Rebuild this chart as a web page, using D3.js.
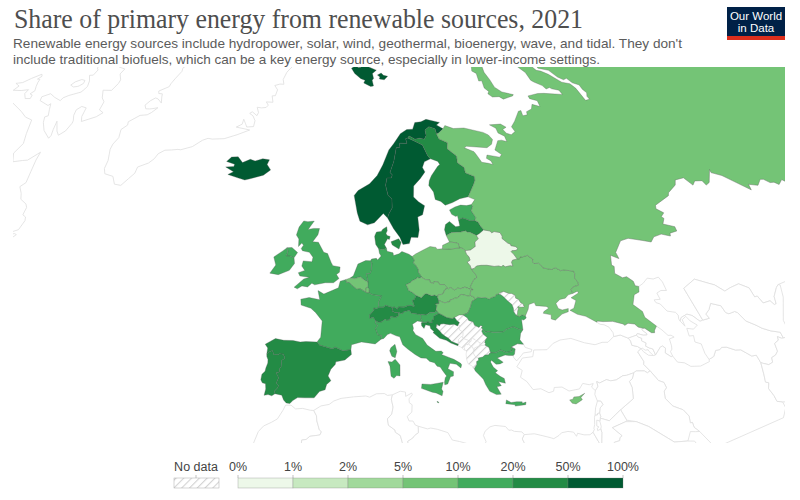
<!DOCTYPE html>
<html><head><meta charset="utf-8"><title>Share of primary energy from renewable sources, 2021</title>
<script src="https://cdn.jsdelivr.net/npm/d3@7"></script>
<style>html,body{margin:0;background:#fff}svg{display:block}</style></head><body><svg id="chart" width="800" height="500"></svg>
<script>
// ---- Chart text and legend ----
const titleText = "Share of primary energy from renewable sources, 2021";
const subtitleLines = ["Renewable energy sources include hydropower, solar, wind, geothermal, bioenergy, wave, and tidal. They don't",
  "include traditional biofuels, which can be a key energy source, especially in lower-income settings."];
const legendTicks = ["0%","1%","2%","5%","10%","20%","50%","100%"];
const legendThresholds = [1,2,5,10,20,50];
const binColors = ["#edf8e9","#c7e9c0","#a1d99b","#74c476","#41ab5d","#238b45","#005a32"];

// ---- Values: share of primary energy from renewables, %, read by colour band ----
const countriesWithData = ["Iceland","Norway","Sweden","Finland","Denmark","Estonia","Latvia","Lithuania","Belarus","Poland","Germany","Netherlands","Belgium","Luxembourg","France","Spain","Portugal","Italy","Switzerland","Austria","Czechia","Slovakia","Hungary","Slovenia","Croatia","Romania","Bulgaria","Greece","Cyprus","Malta","United Kingdom","Ireland","Ukraine","Russia"];
const shareValues = [79.8,71.6,51,34,39.9,17,39,9.9,0.9,9.4,19,13,9.4,8.5,13,20.6,27,19.4,31,36,9.6,8.6,8,18,28,17,12,17,9,12,17,13,8.5,6.4];

// ---- Outlines in longitude / latitude ----
const iceland=[[[-14.51,66.46],[-14.74,65.81],[-13.61,65.13],[-14.91,64.36],[-17.79,63.68],[-18.66,63.5],[-19.97,63.64],[-22.76,63.96],[-21.78,64.4],[-23.96,64.89],[-22.18,65.09],[-22.23,65.38],[-24.33,65.61],[-23.65,66.26],[-22.14,66.41],[-20.58,65.73],[-19.06,66.28],[-17.8,66.13],[-16.17,66.53],[-14.51,66.46]]];
const ireland=[[[-6.2,53.87],[-6.03,53.15],[-6.79,52.26],[-8.56,51.67],[-9.98,51.82],[-9.17,52.86],[-9.69,53.88],[-8.33,54.66],[-7.57,55.13],[-7.37,54.6],[-7.57,54.06],[-6.95,54.07],[-6.2,53.87]]];
const uk=[[[-5.66,54.55],[-6.2,53.87],[-6.95,54.07],[-7.57,54.06],[-7.37,54.6],[-7.57,55.13],[-6.73,55.17],[-5.66,54.55]],[[-3.01,58.64],[-4.07,57.55],[-3.06,57.69],[-1.96,57.68],[-2.22,56.87],[-3.12,55.97],[-2.09,55.91],[-2.01,55.8],[-1.11,54.62],[-0.43,54.46],[0.18,53.33],[0.47,52.93],[1.68,52.74],[1.56,52.1],[1.05,51.81],[1.45,51.29],[0.55,50.77],[-0.79,50.77],[-2.49,50.5],[-2.96,50.7],[-3.62,50.23],[-4.54,50.34],[-5.25,49.96],[-5.78,50.16],[-4.31,51.21],[-3.41,51.43],[-4.98,51.59],[-5.27,51.99],[-4.22,52.3],[-4.77,52.84],[-4.58,53.5],[-3.09,53.4],[-2.95,53.99],[-3.61,54.6],[-4.84,54.79],[-5.08,55.06],[-4.72,55.51],[-5.05,55.78],[-5.59,55.31],[-5.64,56.28],[-6.15,56.79],[-5.79,57.82],[-5.01,58.63],[-4.21,58.55],[-3.01,58.64]]];
const norway=[[[15.14,79.67],[15.52,80.02],[16.99,80.05],[18.25,79.7],[21.54,78.96],[19.03,78.56],[18.47,77.83],[17.59,77.64],[17.12,76.81],[15.91,76.77],[13.76,77.38],[14.67,77.74],[13.17,78.02],[11.22,78.87],[10.44,79.65],[13.17,80.01],[13.72,79.66],[15.14,79.67]],[[24.72,77.85],[22.49,77.44],[20.73,77.68],[21.42,77.94],[20.81,78.25],[22.88,78.45],[23.28,78.08],[24.72,77.85]],[[31.1,69.56],[29.4,69.16],[28.59,69.06],[29.02,69.77],[27.73,70.16],[26.18,69.83],[25.69,69.09],[24.74,68.65],[23.66,68.89],[22.36,68.84],[21.24,69.37],[20.65,69.11],[20.03,69.07],[19.88,68.41],[17.99,68.57],[17.73,68.01],[16.77,68.01],[16.11,67.3],[15.11,66.19],[13.56,64.79],[13.92,64.45],[13.57,64.05],[12.58,64.07],[11.93,63.13],[11.99,61.8],[12.63,61.29],[12.3,60.12],[11.47,59.43],[11.03,58.86],[10.36,59.47],[8.38,58.31],[7.05,58.08],[5.67,58.59],[5.31,59.66],[4.99,61.97],[5.91,62.61],[8.55,63.45],[10.53,64.49],[12.36,65.88],[14.76,67.81],[16.44,68.56],[19.18,69.82],[21.38,70.26],[23.02,70.2],[24.55,71.03],[26.37,70.99],[28.17,71.19],[31.29,70.45],[30.01,70.19],[31.1,69.56]]];
const sweden=[[[22.18,65.72],[21.21,65.03],[21.37,64.41],[19.78,63.61],[17.85,62.75],[17.12,61.34],[17.83,60.64],[18.79,60.08],[17.87,58.95],[16.83,58.72],[16.45,57.04],[15.88,56.1],[14.67,56.2],[14.1,55.41],[12.94,55.36],[12.63,56.31],[11.79,57.44],[11.03,58.86],[11.47,59.43],[12.3,60.12],[12.63,61.29],[11.99,61.8],[11.93,63.13],[12.58,64.07],[13.57,64.05],[13.92,64.45],[13.56,64.79],[15.11,66.19],[16.11,67.3],[16.77,68.01],[17.73,68.01],[17.99,68.57],[19.88,68.41],[20.03,69.07],[20.65,69.11],[21.98,68.62],[23.54,67.94],[23.57,66.4],[23.9,66.01],[22.18,65.72]]];
const finland=[[[28.59,69.06],[28.45,68.36],[29.98,67.7],[29.05,66.94],[30.22,65.81],[29.54,64.95],[30.44,64.2],[30.04,63.55],[31.52,62.87],[31.14,62.36],[30.21,61.78],[28.07,60.5],[26.26,60.42],[24.5,60.06],[22.87,59.85],[22.29,60.39],[21.32,60.72],[21.54,61.71],[21.06,62.61],[21.54,63.19],[22.44,63.82],[24.73,64.9],[25.4,65.11],[25.29,65.53],[23.9,66.01],[23.57,66.4],[23.54,67.94],[21.98,68.62],[20.65,69.11],[21.24,69.37],[22.36,68.84],[23.66,68.89],[24.74,68.65],[25.69,69.09],[26.18,69.83],[27.73,70.16],[29.02,69.77],[28.59,69.06]]];
const denmark=[[[12.69,55.61],[12.09,54.8],[11.04,55.36],[10.9,55.78],[12.37,56.11],[12.69,55.61]],[[10.91,56.46],[10.67,56.08],[10.37,56.19],[9.65,55.47],[9.92,54.98],[9.28,54.83],[8.53,54.96],[8.12,55.52],[8.09,56.54],[8.26,56.81],[8.54,57.11],[9.42,57.17],[9.78,57.45],[10.58,57.73],[10.55,57.22],[10.25,56.89],[10.37,56.61],[10.91,56.46]]];
const estonia=[[[27.98,59.48],[28.13,59.3],[27.42,58.72],[27.72,57.79],[27.29,57.47],[26.46,57.48],[25.6,57.85],[25.16,57.97],[24.31,57.79],[24.43,58.38],[24.06,58.26],[23.43,58.61],[23.34,59.19],[24.6,59.47],[25.86,59.61],[26.95,59.45],[27.98,59.48]]];
const latvia=[[[27.29,57.47],[27.77,57.24],[27.86,56.76],[28.18,56.17],[27.1,55.78],[26.49,55.62],[25.53,56.1],[25,56.16],[24.86,56.37],[23.88,56.27],[22.2,56.34],[21.06,56.03],[21.09,56.78],[21.58,57.41],[22.52,57.75],[23.32,57.01],[24.12,57.03],[24.31,57.79],[25.16,57.97],[25.6,57.85],[26.46,57.48],[27.29,57.47]]];
const lithuania=[[[26.49,55.62],[26.59,55.17],[25.77,54.85],[25.54,54.28],[24.45,53.91],[23.48,53.91],[23.24,54.22],[22.73,54.33],[22.65,54.58],[22.76,54.86],[22.32,55.02],[21.27,55.19],[21.06,56.03],[22.2,56.34],[23.88,56.27],[24.86,56.37],[25,56.16],[25.53,56.1],[26.49,55.62]]];
const belarus=[[[23.48,53.91],[24.45,53.91],[25.54,54.28],[25.77,54.85],[26.59,55.17],[26.49,55.62],[27.1,55.78],[28.18,56.17],[29.23,55.92],[29.37,55.67],[29.9,55.79],[30.87,55.55],[30.97,55.08],[30.76,54.81],[31.38,54.16],[31.79,53.97],[31.73,53.79],[32.41,53.62],[32.69,53.35],[32.3,53.13],[31.5,53.17],[31.31,53.07],[31.54,52.74],[31.79,52.1],[30.93,52.04],[30.62,51.82],[30.56,51.32],[30.16,51.42],[29.25,51.37],[28.99,51.6],[28.62,51.43],[28.24,51.57],[27.45,51.59],[26.34,51.83],[25.33,51.91],[24.55,51.89],[24.01,51.62],[23.53,51.58],[23.51,52.02],[23.2,52.49],[23.8,52.69],[23.8,53.09],[23.53,53.47],[23.48,53.91]]];
const poland=[[[15.02,51.11],[14.61,51.75],[14.69,52.09],[14.44,52.62],[14.07,52.98],[14.35,53.25],[14.12,53.76],[14.8,54.05],[16.36,54.51],[17.62,54.85],[18.62,54.68],[18.7,54.44],[19.66,54.43],[20.89,54.31],[22.73,54.33],[23.24,54.22],[23.48,53.91],[23.53,53.47],[23.8,53.09],[23.8,52.69],[23.2,52.49],[23.51,52.02],[23.53,51.58],[24.03,50.71],[23.92,50.42],[23.43,50.31],[22.52,49.48],[22.78,49.03],[22.56,49.09],[21.61,49.47],[20.89,49.33],[20.42,49.43],[19.83,49.22],[19.32,49.57],[18.91,49.44],[18.85,49.5],[18.39,49.99],[17.65,50.05],[17.55,50.36],[16.87,50.47],[16.72,50.22],[16.18,50.42],[16.24,50.7],[15.49,50.78],[15.02,51.11]]];
const germany=[[[14.12,53.76],[14.35,53.25],[14.07,52.98],[14.44,52.62],[14.69,52.09],[14.61,51.75],[15.02,51.11],[14.57,51],[14.31,51.12],[14.06,50.93],[13.34,50.73],[12.97,50.48],[12.24,50.27],[12.42,49.97],[12.52,49.55],[13.03,49.31],[13.6,48.88],[13.24,48.42],[12.88,48.29],[13.03,47.64],[12.93,47.47],[12.62,47.67],[12.14,47.7],[11.43,47.52],[10.54,47.57],[10.4,47.3],[9.9,47.58],[9.59,47.53],[8.52,47.83],[8.32,47.61],[7.47,47.62],[7.59,48.33],[8.1,49.02],[6.66,49.2],[6.19,49.46],[6.24,49.9],[6.04,50.13],[6.16,50.8],[5.99,51.85],[6.59,51.85],[6.84,52.23],[7.09,53.14],[6.91,53.48],[7.1,53.69],[7.94,53.75],[8.12,53.53],[8.8,54.02],[8.57,54.4],[8.53,54.96],[9.28,54.83],[9.92,54.98],[9.94,54.6],[10.95,54.36],[10.94,54.01],[11.96,54.2],[12.52,54.47],[13.65,54.08],[14.12,53.76]]];
const netherlands=[[[6.91,53.48],[7.09,53.14],[6.84,52.23],[6.59,51.85],[5.99,51.85],[6.16,50.8],[5.61,51.04],[4.97,51.48],[4.05,51.27],[3.31,51.35],[3.83,51.62],[4.71,53.09],[6.07,53.51],[6.91,53.48]]];
const belgium=[[[3.31,51.35],[4.05,51.27],[4.97,51.48],[5.61,51.04],[6.16,50.8],[6.04,50.13],[5.78,50.09],[5.67,49.53],[4.8,49.99],[4.29,49.91],[3.59,50.38],[3.12,50.78],[2.66,50.8],[2.51,51.15],[3.31,51.35]]];
const luxembourg=[[[6.04,50.13],[6.24,49.9],[6.19,49.46],[5.9,49.44],[5.67,49.53],[5.78,50.09],[6.04,50.13]]];
const france=[[[2.51,51.15],[2.66,50.8],[3.12,50.78],[3.59,50.38],[4.29,49.91],[4.8,49.99],[5.67,49.53],[5.9,49.44],[6.19,49.46],[6.66,49.2],[8.1,49.02],[7.59,48.33],[7.47,47.62],[7.19,47.45],[6.74,47.54],[6.77,47.29],[6.04,46.73],[6.02,46.27],[6.5,46.43],[6.84,45.99],[6.8,45.71],[7.1,45.33],[6.75,45.03],[7.01,44.25],[7.55,44.13],[7.44,43.69],[6.53,43.13],[4.56,43.4],[3.1,43.08],[2.99,42.47],[1.83,42.34],[0.7,42.8],[0.34,42.58],[-1.5,43.03],[-1.9,43.42],[-1.38,44.02],[-1.19,46.01],[-2.23,47.06],[-2.96,47.57],[-4.49,47.95],[-4.59,48.68],[-3.3,48.9],[-1.62,48.64],[-1.93,49.78],[-0.99,49.35],[1.34,50.13],[1.64,50.95],[2.51,51.15]],[[9.56,42.15],[9.23,41.38],[8.78,41.58],[8.54,42.26],[8.75,42.63],[9.39,43.01],[9.56,42.15]]];
const spain=[[[-9.03,41.88],[-8.98,42.59],[-9.39,43.03],[-7.98,43.75],[-6.75,43.57],[-5.41,43.57],[-4.35,43.4],[-3.52,43.46],[-1.9,43.42],[-1.5,43.03],[0.34,42.58],[0.7,42.8],[1.83,42.34],[2.99,42.47],[3.04,41.89],[2.09,41.23],[0.81,41.01],[0.72,40.68],[0.11,40.12],[-0.28,39.31],[0.11,38.74],[-0.47,38.29],[-0.68,37.64],[-1.44,37.44],[-2.15,36.67],[-3.42,36.66],[-4.37,36.68],[-5,36.32],[-5.38,35.95],[-5.87,36.03],[-6.24,36.37],[-6.52,36.94],[-7.45,37.1],[-7.54,37.43],[-7.17,37.8],[-7.03,38.08],[-7.37,38.37],[-7.1,39.03],[-7.5,39.63],[-7.07,39.71],[-7.03,40.18],[-6.86,40.33],[-6.85,41.11],[-6.39,41.38],[-6.67,41.88],[-7.25,41.92],[-7.42,41.79],[-8.01,41.79],[-8.26,42.28],[-8.67,42.13],[-9.03,41.88]]];
const portugal=[[[-9.03,41.88],[-8.67,42.13],[-8.26,42.28],[-8.01,41.79],[-7.42,41.79],[-7.25,41.92],[-6.67,41.88],[-6.39,41.38],[-6.85,41.11],[-6.86,40.33],[-7.03,40.18],[-7.07,39.71],[-7.5,39.63],[-7.1,39.03],[-7.37,38.37],[-7.03,38.08],[-7.17,37.8],[-7.54,37.43],[-7.45,37.1],[-7.86,36.84],[-8.38,36.98],[-8.9,36.87],[-8.75,37.65],[-8.84,38.27],[-9.29,38.36],[-9.53,38.74],[-9.45,39.39],[-9.05,39.76],[-8.98,40.16],[-8.77,40.76],[-8.79,41.18],[-8.99,41.54],[-9.03,41.88]]];
const italy=[[[15.52,38.23],[15.16,37.44],[15.31,37.13],[15.1,36.62],[14.34,37],[13.83,37.1],[12.43,37.61],[12.57,38.13],[13.74,38.03],[14.76,38.14],[15.52,38.23]],[[9.21,41.21],[9.81,40.5],[9.67,39.18],[9.21,39.24],[8.81,38.91],[8.43,39.17],[8.39,40.38],[8.16,40.95],[8.71,40.9],[9.21,41.21]],[[12.38,46.77],[13.81,46.51],[13.7,46.02],[13.94,45.59],[13.14,45.74],[12.33,45.38],[12.38,44.89],[12.26,44.6],[12.59,44.09],[13.53,43.59],[14.03,42.76],[15.14,41.96],[15.93,41.96],[16.17,41.74],[15.89,41.54],[16.79,41.18],[17.52,40.88],[18.38,40.36],[18.48,40.17],[18.29,39.81],[17.74,40.28],[16.87,40.44],[16.45,39.8],[17.17,39.42],[17.05,38.9],[16.64,38.84],[16.1,37.99],[15.68,37.91],[15.69,38.21],[15.89,38.75],[16.11,38.96],[15.72,39.54],[15.41,40.05],[15,40.17],[14.7,40.6],[14.06,40.79],[13.63,41.19],[12.89,41.25],[12.11,41.7],[11.19,42.36],[10.51,42.93],[10.2,43.92],[9.7,44.04],[8.89,44.37],[8.43,44.23],[7.85,43.77],[7.44,43.69],[7.55,44.13],[7.01,44.25],[6.75,45.03],[7.1,45.33],[6.8,45.71],[6.84,45.99],[7.27,45.78],[7.76,45.82],[8.32,46.16],[8.49,46.01],[8.97,46.04],[9.18,46.44],[9.92,46.31],[10.36,46.48],[10.44,46.89],[11.05,46.75],[11.16,46.94],[12.15,47.12],[12.38,46.77]]];
const switzerland=[[[9.59,47.53],[9.63,47.35],[9.48,47.1],[9.93,46.92],[10.44,46.89],[10.36,46.48],[9.92,46.31],[9.18,46.44],[8.97,46.04],[8.49,46.01],[8.32,46.16],[7.76,45.82],[7.27,45.78],[6.84,45.99],[6.5,46.43],[6.02,46.27],[6.04,46.73],[6.77,47.29],[6.74,47.54],[7.19,47.45],[7.47,47.62],[8.32,47.61],[8.52,47.83],[9.59,47.53]]];
const austria=[[[16.98,48.12],[16.9,47.71],[16.34,47.71],[16.53,47.5],[16.2,46.85],[16.01,46.68],[15.14,46.66],[14.63,46.43],[13.81,46.51],[12.38,46.77],[12.15,47.12],[11.16,46.94],[11.05,46.75],[10.44,46.89],[9.93,46.92],[9.48,47.1],[9.63,47.35],[9.59,47.53],[9.9,47.58],[10.4,47.3],[10.54,47.57],[11.43,47.52],[12.14,47.7],[12.62,47.67],[12.93,47.47],[13.03,47.64],[12.88,48.29],[13.24,48.42],[13.6,48.88],[14.34,48.56],[14.9,48.96],[15.25,49.04],[16.03,48.73],[16.5,48.79],[16.96,48.6],[16.88,48.47],[16.98,48.12]]];
const czechia=[[[16.96,48.6],[16.5,48.79],[16.03,48.73],[15.25,49.04],[14.9,48.96],[14.34,48.56],[13.6,48.88],[13.03,49.31],[12.52,49.55],[12.42,49.97],[12.24,50.27],[12.97,50.48],[13.34,50.73],[14.06,50.93],[14.31,51.12],[14.57,51],[15.02,51.11],[15.49,50.78],[16.24,50.7],[16.18,50.42],[16.72,50.22],[16.87,50.47],[17.55,50.36],[17.65,50.05],[18.39,49.99],[18.85,49.5],[18.55,49.5],[18.4,49.32],[18.17,49.27],[18.1,49.04],[17.91,49],[17.89,48.9],[17.55,48.8],[17.1,48.82],[16.96,48.6]]];
const slovakia=[[[18.85,49.5],[18.91,49.44],[19.32,49.57],[19.83,49.22],[20.42,49.43],[20.89,49.33],[21.61,49.47],[22.56,49.09],[22.28,48.83],[22.09,48.42],[21.87,48.32],[20.8,48.62],[20.47,48.56],[20.24,48.33],[19.77,48.2],[19.66,48.27],[19.17,48.11],[18.78,48.08],[18.7,47.88],[17.86,47.76],[17.49,47.87],[16.98,48.12],[16.88,48.47],[16.96,48.6],[17.1,48.82],[17.55,48.8],[17.89,48.9],[17.91,49],[18.1,49.04],[18.17,49.27],[18.4,49.32],[18.55,49.5],[18.85,49.5]]];
const hungary=[[[16.2,46.85],[16.53,47.5],[16.34,47.71],[16.9,47.71],[16.98,48.12],[17.49,47.87],[17.86,47.76],[18.7,47.88],[18.78,48.08],[19.17,48.11],[19.66,48.27],[19.77,48.2],[20.24,48.33],[20.47,48.56],[20.8,48.62],[21.87,48.32],[22.09,48.42],[22.64,48.15],[22.71,47.88],[22.1,47.67],[21.63,46.99],[21.02,46.32],[20.22,46.13],[19.6,46.17],[18.83,45.91],[18.46,45.76],[17.63,45.95],[16.88,46.38],[16.56,46.5],[16.37,46.84],[16.2,46.85]]];
const slovenia=[[[13.81,46.51],[14.63,46.43],[15.14,46.66],[16.01,46.68],[16.2,46.85],[16.37,46.84],[16.56,46.5],[15.77,46.24],[15.67,45.83],[15.32,45.73],[15.33,45.45],[14.94,45.47],[14.6,45.63],[14.41,45.47],[13.72,45.5],[13.94,45.59],[13.7,46.02],[13.81,46.51]]];
const croatia=[[[18.83,45.91],[19.07,45.52],[19.39,45.24],[19.01,44.86],[18.55,45.08],[17.86,45.07],[17,45.23],[16.53,45.21],[16.32,45],[15.96,45.23],[15.75,44.82],[16.24,44.35],[16.46,44.04],[16.92,43.67],[17.3,43.45],[17.67,43.03],[18.56,42.65],[18.45,42.48],[17.51,42.85],[16.93,43.21],[16.02,43.51],[15.17,44.24],[15.38,44.32],[14.92,44.74],[14.9,45.08],[14.26,45.23],[13.95,44.8],[13.66,45.14],[13.68,45.48],[13.72,45.5],[14.41,45.47],[14.6,45.63],[14.94,45.47],[15.33,45.45],[15.32,45.73],[15.67,45.83],[15.77,46.24],[16.56,46.5],[16.88,46.38],[17.63,45.95],[18.46,45.76],[18.83,45.91]]];
const romania=[[[22.71,47.88],[23.14,48.1],[23.76,47.99],[24.4,47.98],[24.87,47.74],[25.21,47.89],[25.95,47.99],[26.2,48.22],[26.62,48.22],[26.92,48.12],[27.23,47.83],[27.55,47.41],[28.13,46.81],[28.16,46.37],[28.05,45.94],[28.23,45.49],[28.68,45.3],[29.15,45.46],[29.6,45.29],[29.63,45.04],[29.14,44.82],[28.84,44.91],[28.56,43.71],[27.97,43.81],[27.24,44.18],[26.07,43.94],[25.57,43.69],[24.1,43.74],[23.33,43.9],[22.94,43.82],[22.66,44.23],[22.47,44.41],[22.71,44.58],[22.46,44.7],[22.15,44.48],[21.56,44.77],[21.48,45.18],[20.87,45.42],[20.76,45.73],[20.22,46.13],[21.02,46.32],[21.63,46.99],[22.1,47.67],[22.71,47.88]]];
const bulgaria=[[[22.66,44.23],[22.94,43.82],[23.33,43.9],[24.1,43.74],[25.57,43.69],[26.07,43.94],[27.24,44.18],[27.97,43.81],[28.56,43.71],[28.04,43.29],[27.67,42.58],[28,42.01],[27.14,42.14],[26.12,41.83],[26.11,41.33],[25.2,41.23],[24.49,41.58],[23.69,41.31],[22.95,41.34],[22.88,42],[22.38,42.32],[22.55,42.46],[22.44,42.58],[22.6,42.9],[22.99,43.21],[22.5,43.64],[22.41,44.01],[22.66,44.23]]];
const greece=[[[20.15,39.62],[20.62,40.11],[20.67,40.44],[21,40.58],[21.02,40.84],[21.67,40.93],[22.06,41.15],[22.6,41.13],[22.76,41.3],[22.95,41.34],[23.69,41.31],[24.49,41.58],[25.2,41.23],[26.11,41.33],[26.12,41.83],[26.6,41.56],[26.29,40.94],[26.06,40.82],[25.45,40.85],[24.93,40.95],[23.71,40.69],[24.41,40.12],[23.9,39.96],[23.34,39.96],[22.81,40.48],[22.63,40.26],[22.85,39.66],[23.35,39.19],[22.97,38.97],[23.53,38.51],[24.03,38.22],[24.04,37.66],[23.12,37.92],[23.41,37.41],[22.77,37.31],[23.15,36.42],[22.49,36.41],[21.67,36.84],[21.3,37.64],[21.12,38.31],[20.73,38.77],[20.22,39.34],[20.15,39.62]],[[23.7,35.71],[24.25,35.37],[25.03,35.42],[25.77,35.35],[25.75,35.18],[26.29,35.3],[26.16,35],[24.72,34.92],[24.74,35.08],[23.51,35.28],[23.7,35.71]]];
const cyprus=[[[34.58,35.67],[33.9,35.25],[33.97,35.06],[34,34.98],[32.98,34.57],[32.49,34.7],[32.26,35.1],[32.73,35.14],[32.95,35.39],[33.67,35.37],[34.58,35.67]]];
const malta=[[[14.33,36],[14.56,35.88],[14.5,35.8],[14.33,35.9],[14.33,36]]];
const ukraine=[[[31.79,52.1],[32.16,52.06],[32.41,52.29],[32.72,52.24],[33.75,52.34],[34.39,51.77],[34.14,51.57],[34.22,51.26],[35.02,51.21],[35.38,50.77],[35.36,50.58],[36.63,50.23],[37.39,50.38],[38.01,49.92],[38.59,49.93],[40.07,49.6],[40.08,49.31],[39.67,48.78],[39.9,48.23],[39.74,47.9],[38.77,47.83],[38.26,47.55],[38.22,47.1],[37.43,47.02],[36.76,46.7],[35.82,46.65],[34.96,46.27],[35.02,45.65],[35.51,45.41],[36.53,45.47],[36.33,45.11],[35.24,44.94],[33.88,44.36],[33.33,44.56],[33.55,45.03],[32.45,45.33],[32.63,45.52],[33.59,45.85],[33.3,46.08],[31.74,46.33],[31.68,46.71],[30.75,46.58],[30.38,46.03],[29.6,45.29],[29.15,45.46],[28.68,45.3],[28.23,45.49],[28.49,45.6],[28.66,45.94],[28.93,46.26],[28.86,46.44],[29.07,46.52],[29.17,46.38],[29.76,46.35],[30.02,46.42],[29.84,46.53],[29.91,46.67],[29.56,46.93],[29.42,47.35],[29.05,47.51],[29.12,47.85],[28.67,48.12],[28.26,48.16],[27.52,48.47],[26.86,48.37],[26.62,48.22],[26.2,48.22],[25.95,47.99],[25.21,47.89],[24.87,47.74],[24.4,47.98],[23.76,47.99],[23.14,48.1],[22.71,47.88],[22.64,48.15],[22.09,48.42],[22.28,48.83],[22.56,49.09],[22.78,49.03],[22.52,49.48],[23.43,50.31],[23.92,50.42],[24.03,50.71],[23.53,51.58],[24.01,51.62],[24.55,51.89],[25.33,51.91],[26.34,51.83],[27.45,51.59],[28.24,51.57],[28.62,51.43],[28.99,51.6],[29.25,51.37],[30.16,51.42],[30.56,51.32],[30.62,51.82],[30.93,52.04],[31.79,52.1]]];
const kazakhNorthBorder=[[87.36,49.21],[86.83,49.83],[85.54,49.69],[85.12,50.12],[84.42,50.31],[83.94,50.89],[83.38,51.07],[81.95,50.81],[80.57,51.39],[80.04,50.86],[77.8,53.4],[76.53,54.18],[76.89,54.49],[74.39,53.55],[73.43,53.49],[73.51,54.04],[72.22,54.38],[71.18,54.13],[70.87,55.17],[69.07,55.39],[68.17,54.97],[65.67,54.6],[65.18,54.35],[61.44,54.01],[60.98,53.66],[61.7,52.98],[60.74,52.72],[60.93,52.45],[59.97,51.96],[61.59,51.27],[61.34,50.8],[59.93,50.84],[59.64,50.55],[58.36,51.06],[56.78,51.04],[55.72,50.62],[54.53,51.03],[52.33,51.72],[50.77,51.69],[48.7,50.61],[48.58,49.87],[47.55,50.45],[46.75,49.36],[47.04,49.15],[46.47,48.39],[47.32,47.72],[48.06,47.74],[48.7,47.08],[48.59,46.56],[49.1,46.4]];
const russiaArcticCoast=[[31.1,69.56],[32.13,69.91],[33.78,69.3],[36.51,69.06],[40.29,67.93],[41.06,67.46],[41.13,66.79],[40.02,66.27],[38.38,66],[33.92,66.76],[33.18,66.63],[34.81,65.9],[34.88,65.44],[34.94,64.41],[36.23,64.11],[37.01,63.85],[37.14,64.33],[36.54,64.76],[37.18,65.14],[39.59,64.52],[40.44,64.76],[39.76,65.5],[42.09,66.48],[43.02,66.42],[43.95,66.07],[44.53,66.76],[43.7,67.35],[44.19,67.95],[43.45,68.57],[46.25,68.25],[46.82,67.69],[45.56,67.57],[45.56,67.01],[46.35,66.67],[47.89,66.88],[48.14,67.52],[50.23,68],[53.72,68.86],[54.47,68.81],[53.49,68.2],[54.73,68.1],[55.44,68.44],[57.32,68.47],[58.8,68.88],[59.94,68.28],[61.08,68.94],[60.03,69.52],[60.55,69.85],[63.5,69.55],[64.89,69.23],[68.51,68.09],[69.18,68.62],[68.16,69.14],[68.13,69.36],[66.93,69.45],[67.26,69.93],[66.72,70.71],[66.69,71.03],[68.54,71.93],[69.2,72.84],[69.94,73.04],[72.59,72.78],[72.8,72.22],[71.85,71.41],[72.47,71.09],[72.79,70.39],[72.57,69.02],[73.67,68.41],[73.24,67.74],[71.28,66.32],[72.42,66.17],[72.82,66.53],[73.92,66.79],[74.19,67.28],[75.05,67.76],[74.47,68.33],[74.94,68.99],[73.84,69.07],[73.6,69.63],[74.4,70.63],[73.1,71.45],[74.89,72.12],[74.66,72.83],[75.16,72.86],[75.68,72.3],[75.29,71.34],[76.36,71.15],[75.9,71.87],[77.58,72.27],[79.65,72.32],[81.5,71.75],[80.61,72.58],[80.51,73.65],[82.25,73.85],[84.66,73.81],[86.82,73.94],[86.01,74.46],[87.17,75.12],[88.32,75.14],[90.26,75.64],[92.9,75.77],[93.23,76.05],[95.86,76.14],[96.68,75.92],[98.92,76.45],[100.76,76.43],[110,74],[140,70],[130,50],[100,49]];
const russiaWesternBorder=[[49.1,46.4],[48.65,45.81],[47.68,45.64],[46.68,44.61],[47.59,43.66],[47.49,42.99],[48.58,41.81],[47.99,41.41],[47.82,41.15],[47.37,41.22],[46.69,41.83],[46.4,41.86],[45.78,42.09],[45.47,42.5],[44.54,42.71],[43.93,42.55],[43.76,42.74],[42.39,43.22],[40.92,43.38],[40.08,43.55],[39.96,43.43],[38.68,44.28],[37.54,44.66],[36.68,45.25],[37.4,45.41],[38.23,46.24],[37.67,46.64],[39.15,47.04],[39.12,47.26],[38.22,47.1],[38.26,47.55],[38.77,47.83],[39.74,47.9],[39.9,48.23],[39.67,48.78],[40.08,49.31],[40.07,49.6],[38.59,49.93],[38.01,49.92],[37.39,50.38],[36.63,50.23],[35.36,50.58],[35.38,50.77],[35.02,51.21],[34.22,51.26],[34.14,51.57],[34.39,51.77],[33.75,52.34],[32.72,52.24],[32.41,52.29],[32.16,52.06],[31.79,52.1],[31.54,52.74],[31.31,53.07],[31.5,53.17],[32.3,53.13],[32.69,53.35],[32.41,53.62],[31.73,53.79],[31.79,53.97],[31.38,54.16],[30.76,54.81],[30.97,55.08],[30.87,55.55],[29.9,55.79],[29.37,55.67],[29.23,55.92],[28.18,56.17],[27.86,56.76],[27.77,57.24],[27.29,57.47],[27.72,57.79],[27.42,58.72],[28.13,59.3],[27.98,59.48],[29.12,60.03],[28.07,60.5],[30.21,61.78],[31.14,62.36],[31.52,62.87],[30.04,63.55],[30.44,64.2],[29.54,64.95],[30.22,65.81],[29.05,66.94],[29.98,67.7],[28.45,68.36],[28.59,69.06],[29.4,69.16],[31.1,69.56]];
const novayaZemlya=[[53.51,73.75],[55.9,74.63],[55.63,75.08],[57.87,75.61],[61.17,76.25],[64.5,76.44],[66.21,76.81],[68.16,76.94],[68.85,76.55],[68.18,76.23],[64.64,75.74],[61.58,75.26],[58.48,74.31],[56.99,73.33],[55.42,72.37],[55.62,71.54],[57.54,70.72],[56.94,70.63],[53.68,70.76],[53.41,71.21],[51.6,71.48],[51.46,72.02],[52.48,72.23],[52.44,72.78],[54.43,73.63],[53.51,73.75]];
const kaliningrad=[[22.73,54.33],[20.89,54.31],[19.66,54.43],[19.89,54.87],[21.27,55.19],[22.32,55.02],[22.76,54.86],[22.65,54.58],[22.73,54.33]];
const russia=[russiaArcticCoast.concat(kazakhNorthBorder, russiaWesternBorder.slice(1)),novayaZemlya,kaliningrad];

// Countries shown as "No data"
const noDataCountries={
 moldova:[[[26.62,48.22],[26.86,48.37],[27.52,48.47],[28.26,48.16],[28.67,48.12],[29.12,47.85],[29.05,47.51],[29.42,47.35],[29.56,46.93],[29.91,46.67],[29.84,46.53],[30.02,46.42],[29.76,46.35],[29.17,46.38],[29.07,46.52],[28.86,46.44],[28.93,46.26],[28.66,45.94],[28.49,45.6],[28.23,45.49],[28.05,45.94],[28.16,46.37],[28.13,46.81],[27.55,47.41],[27.23,47.83],[26.92,48.12],[26.62,48.22]]],
 serbia:[[[20.87,45.42],[21.48,45.18],[21.56,44.77],[22.15,44.48],[22.46,44.7],[22.71,44.58],[22.47,44.41],[22.66,44.23],[22.41,44.01],[22.5,43.64],[22.99,43.21],[22.6,42.9],[22.44,42.58],[22.55,42.46],[22.38,42.32],[21.92,42.3],[21.58,42.25],[21.54,42.32],[21.66,42.44],[21.78,42.68],[21.63,42.68],[21.44,42.86],[21.27,42.91],[21.14,43.07],[20.96,43.13],[20.81,43.27],[20.64,43.22],[20.5,42.88],[20.26,42.81],[20.34,42.9],[19.96,43.11],[19.63,43.21],[19.48,43.35],[19.22,43.52],[19.45,43.57],[19.6,44.04],[19.12,44.42],[19.37,44.86],[19.01,44.86],[19.39,45.24],[19.07,45.52],[18.83,45.91],[19.6,46.17],[20.22,46.13],[20.76,45.73],[20.87,45.42]]],
 bosnia:[[[19.01,44.86],[19.37,44.86],[19.12,44.42],[19.6,44.04],[19.45,43.57],[19.22,43.52],[19.03,43.43],[18.71,43.2],[18.56,42.65],[17.67,43.03],[17.3,43.45],[16.92,43.67],[16.46,44.04],[16.24,44.35],[15.75,44.82],[15.96,45.23],[16.32,45],[16.53,45.21],[17,45.23],[17.86,45.07],[18.55,45.08],[19.01,44.86]]],
 montenegro:[[[20.07,42.59],[19.8,42.5],[19.74,42.69],[19.3,42.2],[19.37,41.88],[19.16,41.96],[18.88,42.28],[18.45,42.48],[18.56,42.65],[18.71,43.2],[19.03,43.43],[19.22,43.52],[19.48,43.35],[19.63,43.21],[19.96,43.11],[20.34,42.9],[20.26,42.81],[20.07,42.59]]],
 kosovo:[[[20.76,42.05],[20.72,41.85],[20.59,41.86],[20.52,42.22],[20.28,42.32],[20.07,42.59],[20.26,42.81],[20.5,42.88],[20.64,43.22],[20.81,43.27],[20.96,43.13],[21.14,43.07],[21.27,42.91],[21.44,42.86],[21.63,42.68],[21.78,42.68],[21.66,42.44],[21.54,42.32],[21.58,42.25],[21.35,42.21],[20.76,42.05]]],
 albania:[[[20.59,41.86],[20.46,41.52],[20.61,41.09],[21.02,40.84],[21,40.58],[20.67,40.44],[20.62,40.11],[20.15,39.62],[19.98,39.69],[19.96,39.92],[19.41,40.25],[19.32,40.73],[19.4,41.41],[19.54,41.72],[19.37,41.88],[19.3,42.2],[19.74,42.69],[19.8,42.5],[20.07,42.59],[20.28,42.32],[20.52,42.22],[20.59,41.86]]],
 northMacedonia:[[[22.38,42.32],[22.88,42],[22.95,41.34],[22.76,41.3],[22.6,41.13],[22.06,41.15],[21.67,40.93],[21.02,40.84],[20.61,41.09],[20.46,41.52],[20.59,41.86],[20.72,41.85],[20.76,42.05],[21.35,42.21],[21.92,42.3],[22.38,42.32]]]
};

// Outlines outside the chart's selection (white, pale border)
const contextCountries={
 greenland:[[[-46.76,82.63],[-43.41,83.23],[-39.9,83.18],[-38.62,83.55],[-35.09,83.65],[-27.1,83.52],[-20.85,82.73],[-22.69,82.34],[-26.52,82.3],[-31.9,82.2],[-31.4,82.02],[-27.86,82.13],[-24.84,81.79],[-22.9,82.09],[-22.07,81.73],[-23.17,81.15],[-20.62,81.52],[-15.77,81.91],[-12.77,81.72],[-12.21,81.29],[-16.29,80.58],[-16.85,80.35],[-20.05,80.18],[-17.73,80.13],[-18.9,79.4],[-19.7,78.75],[-19.67,77.64],[-18.47,76.99],[-20.04,76.94],[-21.68,76.63],[-19.83,76.1],[-19.6,75.25],[-20.67,75.16],[-19.37,74.3],[-21.59,74.22],[-20.43,73.82],[-20.76,73.46],[-22.17,73.31],[-23.57,73.31],[-22.31,72.63],[-22.3,72.18],[-24.28,72.6],[-24.79,72.33],[-23.44,72.08],[-22.13,71.47],[-21.75,70.66],[-23.54,70.47],[-24.31,70.86],[-25.54,71.43],[-25.2,70.75],[-26.36,70.23],[-23.73,70.18],[-22.35,70.13],[-25.03,69.26],[-27.75,68.47],[-30.67,68.13],[-31.78,68.12],[-32.81,67.74],[-34.2,66.68],[-36.35,65.98],[-37.04,65.94],[-38.38,65.69],[-39.81,65.46],[-40.67,64.84],[-40.68,64.14],[-41.19,63.48],[-42.82,62.68],[-42.42,61.9],[-42.87,61.07],[-43.38,60.1],[-44.79,60.04],[-46.26,60.85],[-48.26,60.86],[-49.23,61.41],[-49.9,62.38],[-51.63,63.63],[-52.14,64.28],[-52.28,65.18],[-53.66,66.1],[-53.3,66.84],[-53.97,67.19],[-52.98,68.36],[-51.48,68.73],[-51.08,69.15],[-50.87,69.93],[-52.01,69.57],[-52.56,69.43],[-53.46,69.28],[-54.68,69.61],[-54.75,70.29],[-54.36,70.82],[-53.43,70.84],[-51.39,70.57],[-53.11,71.2],[-54,71.55],[-55,71.41],[-55.83,71.65],[-54.72,72.59],[-55.33,72.96],[-56.12,73.65],[-57.32,74.71],[-58.6,75.1],[-58.59,75.52],[-61.27,76.1],[-63.39,76.18],[-66.06,76.13],[-68.5,76.06],[-69.66,76.38],[-71.4,77.01],[-68.78,77.32],[-66.76,77.38],[-71.04,77.64],[-73.3,78.04],[-73.16,78.43],[-69.37,78.91],[-65.71,79.39],[-65.32,79.76],[-68.02,80.12],[-67.15,80.52],[-63.69,81.21],[-62.23,81.32],[-62.65,81.77],[-60.28,82.03],[-57.21,82.19],[-54.13,82.2],[-53.04,81.89],[-50.39,82.44],[-48,82.06],[-46.6,81.99],[-44.52,81.66],[-46.9,82.2],[-46.76,82.63]]],
 baffin:[[[-66.16,61.93],[-68.88,62.33],[-71.02,62.91],[-72.24,63.4],[-71.89,63.68],[-73.38,64.19],[-74.83,64.68],[-74.82,64.39],[-77.71,64.23],[-78.56,64.57],[-77.9,65.31],[-76.02,65.33],[-73.96,65.45],[-74.29,65.81],[-73.94,66.31],[-72.65,67.28],[-72.93,67.73],[-73.31,68.07],[-74.84,68.55],[-76.87,68.89],[-76.23,69.15],[-77.29,69.77],[-78.17,69.83],[-78.96,70.17],[-79.49,69.87],[-81.31,69.74],[-84.94,69.97],[-87.06,70.26],[-88.68,70.41],[-89.51,70.76],[-88.47,71.22],[-89.89,71.22],[-90.21,72.24],[-89.44,73.13],[-88.41,73.54],[-85.83,73.8],[-86.56,73.16],[-85.77,72.53],[-84.85,73.34],[-82.32,73.75],[-80.6,72.72],[-80.75,72.06],[-78.77,72.35],[-77.82,72.75],[-75.61,72.24],[-74.23,71.77],[-74.1,71.33],[-72.24,71.56],[-71.2,70.92],[-68.79,70.53],[-67.91,70.12],[-66.97,69.19],[-68.81,68.72],[-66.45,68.07],[-64.86,67.85],[-63.42,66.93],[-61.85,66.86],[-62.16,66.16],[-63.92,65],[-65.15,65.43],[-66.72,66.39],[-68.02,66.26],[-68.14,65.69],[-67.09,65.11],[-65.73,64.65],[-65.32,64.38],[-64.67,63.39],[-65.01,62.67],[-66.28,62.95],[-68.78,63.75],[-67.37,62.88],[-66.33,62.28],[-66.16,61.93]]],
 princeCharles:[[[-75.86,67.15],[-76.99,67.1],[-77.24,67.59],[-76.81,68.15],[-75.9,68.29],[-75.11,68.01],[-75.1,67.58],[-75.22,67.44],[-75.86,67.15]]],
 southampton:[[[-80.1,63.73],[-80.99,63.41],[-82.55,63.65],[-83.11,64.1],[-84.1,63.57],[-85.52,63.05],[-85.87,63.64],[-87.22,63.54],[-86.35,64.04],[-86.22,64.82],[-85.88,65.74],[-85.16,65.66],[-84.98,65.22],[-84.46,65.37],[-83.88,65.11],[-82.79,64.77],[-81.64,64.46],[-81.55,63.98],[-80.82,64.06],[-80.1,63.73]]],
 newfoundland:[[[-55.87,51.63],[-55.41,51.59],[-56.79,49.81],[-56.14,50.15],[-55.47,49.94],[-55.82,49.59],[-54.94,49.31],[-54.47,49.56],[-53.48,49.25],[-53.79,48.52],[-53.09,48.69],[-52.96,48.16],[-52.65,47.54],[-53.07,46.66],[-53.52,46.62],[-54.18,46.81],[-53.96,47.63],[-54.24,47.75],[-55.4,46.88],[-55.99,46.92],[-55.29,47.39],[-56.25,47.63],[-57.33,47.57],[-59.27,47.6],[-59.42,47.9],[-58.8,48.25],[-59.23,48.52],[-58.39,49.13],[-57.36,50.72],[-56.74,51.29],[-55.87,51.63]]],
 canadaMainland:[[[-64.58,60.34],[-63.8,59.44],[-62.5,58.17],[-61.4,56.97],[-61.8,56.34],[-60.47,55.78],[-59.57,55.2],[-57.98,54.95],[-57.33,54.63],[-56.94,53.78],[-56.16,53.65],[-55.76,53.27],[-55.68,52.15],[-56.41,51.77],[-57.13,51.42],[-58.77,51.06],[-60.03,50.24],[-61.72,50.08],[-63.86,50.29],[-65.36,50.3],[-66.4,50.23],[-67.24,49.51],[-90,45],[-90,62],[-78,62.4],[-75.7,62.28],[-73.84,62.44],[-71.37,61.14],[-69.62,60.22],[-69.29,58.96],[-67.65,58.21],[-66.2,58.77],[-65.32,59.05],[-64.58,60.34]]],
 morocco:[[[-5.93,35.76],[-5.19,35.76],[-4.59,35.33],[-3.64,35.4],[-2.6,35.18],[-2.17,35.17],[-1.79,34.53],[-1.73,33.92],[-1.39,32.86],[-1.12,32.65],[-1.31,32.26],[-2.62,32.09],[-3.07,31.72],[-3.65,31.64],[-3.69,30.9],[-4.86,30.5],[-5.24,30],[-6.06,29.73],[-9.5,29],[-9.81,31.18],[-9.3,32.56],[-8.66,33.24],[-7.65,33.7],[-6.91,34.11],[-6.24,35.15],[-5.93,35.76]]],
 algeria:[[[-1.79,34.53],[-2.17,35.17],[-1.21,35.71],[-0.13,35.89],[0.5,36.3],[1.47,36.61],[3.16,36.78],[4.82,36.87],[5.32,36.72],[6.26,37.11],[7.33,37.12],[7.74,36.89],[8.42,36.95],[8.22,36.43],[8.38,35.48],[8.14,34.66],[7.52,34.1],[7.61,33.34],[8.43,32.75],[8.44,32.51],[9.06,32.1],[9.48,30.31],[9.86,28.96],[9,24],[-8.67,27.4],[-8.67,28.84],[-7.06,29.58],[-6.06,29.73],[-5.24,30],[-4.86,30.5],[-3.69,30.9],[-3.65,31.64],[-3.07,31.72],[-2.62,32.09],[-1.31,32.26],[-1.12,32.65],[-1.39,32.86],[-1.73,33.92],[-1.79,34.53]]],
 tunisia:[[[9.48,30.31],[9.06,32.1],[8.44,32.51],[8.43,32.75],[7.61,33.34],[7.52,34.1],[8.14,34.66],[8.38,35.48],[8.22,36.43],[8.42,36.95],[9.51,37.35],[10.21,37.23],[10.18,36.72],[11.03,37.09],[11.1,36.9],[10.6,36.41],[10.59,35.95],[10.94,35.7],[10.81,34.83],[10.15,34.33],[10.34,33.79],[10.86,33.77],[11.11,33.29],[11.49,33.14],[11.43,32.37],[10.94,32.08],[10.64,31.76],[9.95,31.38],[10.06,30.96],[9.97,30.54],[9.48,30.31]]],
 libya:[[[11.49,33.14],[12.66,32.79],[13.08,32.88],[13.92,32.71],[15.25,32.27],[15.71,31.38],[16.61,31.18],[18.02,30.76],[19.09,30.27],[19.57,30.53],[20.05,30.99],[19.82,31.75],[20.13,32.24],[20.85,32.71],[21.54,32.84],[22.9,32.64],[23.24,32.19],[23.61,32.19],[23.93,32.02],[24.92,31.9],[25.16,31.57],[24.8,31.09],[24.96,30.66],[24.7,30.04],[25,29.24],[25,20],[10,22],[9.86,28.96],[9.48,30.31],[9.97,30.54],[10.06,30.96],[9.95,31.38],[10.64,31.76],[10.94,32.08],[11.43,32.37],[11.49,33.14]]],
 egypt:[[[25.16,31.57],[26.5,31.59],[27.46,31.32],[28.45,31.03],[28.91,30.87],[29.68,31.19],[30.1,31.47],[30.98,31.56],[31.69,31.43],[31.96,30.93],[32.19,31.26],[32.99,31.02],[33.77,30.97],[34.27,31.22],[34.82,29.76],[34.92,29.5],[34.64,29.1],[34.43,28.34],[34.15,27.82],[33.92,27.65],[33.59,27.97],[33.14,28.42],[32.42,29.85],[32.32,29.76],[32.73,28.71],[33.35,27.7],[34.1,26.14],[35,22],[25,22],[25,29.24],[24.7,30.04],[24.96,30.66],[24.8,31.09],[25.16,31.57]]],
 turkey:[[[36.91,41.34],[38.35,40.95],[39.51,41.1],[40.37,41.01],[41.55,41.54],[42.62,41.58],[43.58,41.09],[43.75,40.74],[43.66,40.25],[44.4,40.01],[44.79,39.71],[44.11,39.43],[44.42,38.28],[44.23,37.97],[44.77,37.17],[44.29,37],[43.94,37.26],[42.78,37.39],[42.35,37.23],[41.21,37.07],[40.67,37.09],[39.52,36.72],[38.7,36.71],[38.17,36.9],[37.07,36.62],[36.74,36.82],[36.69,36.26],[36.42,36.04],[36.15,35.82],[35.78,36.27],[36.16,36.65],[35.55,36.57],[34.71,36.8],[34.03,36.22],[32.51,36.11],[31.7,36.64],[30.62,36.68],[30.39,36.26],[29.7,36.14],[28.73,36.68],[27.64,36.66],[27.05,37.65],[26.32,38.21],[26.8,38.99],[26.17,39.46],[27.28,40.42],[28.82,40.46],[29.24,41.22],[31.15,41.09],[32.35,41.74],[33.51,42.02],[35.17,42.04],[36.91,41.34]],[[26.12,41.83],[27.14,42.14],[28,42.01],[28.12,41.62],[28.99,41.3],[28.81,41.05],[27.62,41],[27.19,40.69],[26.36,40.15],[26.04,40.62],[26.06,40.82],[26.29,40.94],[26.6,41.56],[26.12,41.83]]],
 georgia:[[[41.55,41.54],[41.7,41.96],[41.45,42.65],[40.88,43.01],[40.32,43.13],[39.96,43.43],[40.08,43.55],[40.92,43.38],[42.39,43.22],[43.76,42.74],[43.93,42.55],[44.54,42.71],[45.47,42.5],[45.78,42.09],[46.4,41.86],[46.15,41.72],[46.64,41.18],[46.5,41.06],[45.96,41.12],[45.22,41.41],[44.97,41.25],[43.58,41.09],[42.62,41.58],[41.55,41.54]]],
 armenia:[[[43.58,41.09],[44.97,41.25],[45.18,40.99],[45.56,40.81],[45.36,40.56],[45.89,40.22],[45.61,39.9],[46.03,39.63],[46.48,39.46],[46.51,38.77],[46.14,38.74],[45.74,39.32],[45.74,39.47],[45.3,39.47],[45,39.74],[44.79,39.71],[44.4,40.01],[43.66,40.25],[43.75,40.74],[43.58,41.09]]],
 azerbaijan:[[[47.37,41.22],[47.82,41.15],[47.99,41.41],[48.58,41.81],[49.11,41.28],[49.62,40.57],[50.08,40.53],[50.39,40.26],[49.57,40.18],[49.4,39.4],[49.22,39.05],[48.86,38.82],[48.88,38.32],[48.63,38.27],[48.01,38.79],[48.36,39.29],[48.06,39.58],[47.69,39.51],[46.51,38.77],[46.48,39.46],[46.03,39.63],[45.61,39.9],[45.89,40.22],[45.36,40.56],[45.56,40.81],[45.18,40.99],[44.97,41.25],[45.22,41.41],[45.96,41.12],[46.5,41.06],[46.64,41.18],[46.15,41.72],[46.4,41.86],[46.69,41.83],[47.37,41.22]]],
 iran:[[[53.92,37.2],[54.8,37.39],[55.51,37.96],[56.18,37.94],[56.62,38.12],[57.33,38.03],[58.44,37.52],[59.23,37.41],[60.38,36.53],[61.12,36.49],[61.21,35.65],[60.8,34.4],[60.53,33.68],[60.96,33.53],[60.54,32.98],[60.86,32.18],[60.94,31.55],[61.7,31.38],[61.78,30.74],[60.87,29.83],[50,28],[48.57,29.93],[48.01,30.45],[48,30.99],[47.69,30.98],[47.85,31.71],[47.33,32.47],[46.11,33.02],[45.42,33.97],[45.65,34.75],[46.15,35.09],[46.08,35.68],[45.42,35.98],[44.77,37.17],[44.23,37.97],[44.42,38.28],[44.11,39.43],[44.79,39.71],[44.95,39.34],[45.46,38.87],[46.14,38.74],[46.51,38.77],[47.69,39.51],[48.06,39.58],[48.36,39.29],[48.01,38.79],[48.63,38.27],[48.88,38.32],[49.2,37.58],[50.15,37.37],[50.84,36.87],[52.26,36.7],[53.83,36.97],[53.92,37.2]]],
 iraq:[[[39.2,32.16],[38.79,33.38],[41.01,34.42],[41.38,35.63],[41.29,36.36],[41.84,36.61],[42.35,37.23],[42.78,37.39],[43.94,37.26],[44.29,37],[44.77,37.17],[45.42,35.98],[46.08,35.68],[46.15,35.09],[45.65,34.75],[45.42,33.97],[46.11,33.02],[47.33,32.47],[47.85,31.71],[47.69,30.98],[48,30.99],[48.01,30.45],[48.57,29.93],[47.97,29.98],[47.3,30.06],[46.57,29.1],[44.71,29.18],[41.89,31.19],[40.4,31.89],[39.2,32.16]]],
 syria:[[[38.79,33.38],[36.83,32.31],[35.72,32.71],[35.7,32.72],[35.84,32.87],[35.82,33.28],[36.07,33.82],[36.61,34.2],[36.45,34.59],[36,34.64],[35.91,35.41],[36.15,35.82],[36.42,36.04],[36.69,36.26],[36.74,36.82],[37.07,36.62],[38.17,36.9],[38.7,36.71],[39.52,36.72],[40.67,37.09],[41.21,37.07],[42.35,37.23],[41.84,36.61],[41.29,36.36],[41.38,35.63],[41.01,34.42],[38.79,33.38]]],
 lebanon:[[[35.82,33.28],[35.55,33.26],[35.46,33.09],[35.13,33.09],[35.48,33.91],[36,34.64],[36.45,34.59],[36.61,34.2],[36.07,33.82],[35.82,33.28]]],
 jordan:[[[35.55,32.39],[35.72,32.71],[36.83,32.31],[38.79,33.38],[39.2,32.16],[39,32.01],[37,31.51],[38,30.51],[37.67,30.34],[37.5,30],[36.74,29.87],[36.5,29.51],[36.07,29.2],[34.96,29.36],[34.92,29.5],[35.42,31.1],[35.4,31.49],[35.55,31.78],[35.55,32.39]]],
 israel:[[[35.72,32.71],[35.55,32.39],[35.18,32.53],[34.97,31.87],[35.23,31.75],[34.97,31.62],[34.93,31.35],[35.4,31.49],[35.42,31.1],[34.92,29.5],[34.27,31.22],[34.56,31.55],[34.49,31.61],[34.75,32.07],[34.96,32.83],[35.1,33.08],[35.13,33.09],[35.46,33.09],[35.55,33.26],[35.82,33.28],[35.84,32.87],[35.7,32.72],[35.72,32.71]]],
 saudiArabia:[[[39,32.01],[40.4,31.89],[41.89,31.19],[44.71,29.18],[46.57,29.1],[47.46,29],[47.71,28.53],[48.42,28.55],[50,25],[40,20],[35,28],[34.96,29.36],[36.07,29.2],[36.5,29.51],[36.74,29.87],[37.5,30],[37.67,30.34],[38,30.51],[37,31.51],[39,32.01]]],
 kazakhstan:[kazakhNorthBorder.concat([[50.03,46.61],[51.19,47.05],[52.04,46.8],[53.04,46.85],[53.22,46.24],[53.04,45.26],[52.17,45.41],[51.32,45.25],[51.28,44.52],[50.31,44.61],[50.34,44.28],[50.89,44.03],[51.34,43.13],[52.5,42.79],[52.69,42.44],[52.45,42.03],[52.5,41.78],[52.94,42.12],[54.08,42.32],[54.76,42.04],[55.46,41.26],[55.97,41.31],[55.93,45],[58.5,45.59],[58.69,45.5],[60.24,44.78],[61.06,44.41],[62.01,43.5],[63.19,43.65],[64.9,43.73],[66.1,43],[66.02,42],[66.51,41.99],[66.71,41.17],[67.99,41.14],[68.26,40.66],[68.63,40.67],[69.07,41.38],[70.39,42.08],[70.96,42.27],[80,42],[87.36,49.21]])],
 turkmenistan:[[[52.5,41.78],[52.94,42.12],[54.08,42.32],[54.76,42.04],[55.46,41.26],[55.97,41.31],[57.1,41.32],[56.93,41.83],[57.79,42.17],[58.63,42.75],[59.98,42.22],[60.08,41.43],[60.47,41.22],[61.55,41.27],[61.88,41.08],[62.37,40.05],[63.52,39.36],[64.17,38.89],[65.22,38.4],[66.55,37.98],[66.52,37.36],[66.22,37.39],[65.75,37.66],[65.59,37.31],[64.75,37.11],[64.55,36.31],[63.98,36.01],[63.19,35.86],[62.98,35.4],[62.23,35.27],[61.21,35.65],[61.12,36.49],[60.38,36.53],[59.23,37.41],[58.44,37.52],[57.33,38.03],[56.62,38.12],[56.18,37.94],[55.51,37.96],[54.8,37.39],[53.92,37.2],[53.74,37.91],[53.88,38.95],[53.1,39.29],[53.36,39.98],[52.69,40.03],[52.92,40.88],[53.86,40.63],[54.74,40.95],[54.01,41.55],[53.72,42.12],[52.92,41.87],[52.82,41.14],[52.5,41.78]]],
 uzbekistan:[[[66.52,37.36],[66.55,37.98],[65.22,38.4],[64.17,38.89],[63.52,39.36],[62.37,40.05],[61.88,41.08],[61.55,41.27],[60.47,41.22],[60.08,41.43],[59.98,42.22],[58.63,42.75],[57.79,42.17],[56.93,41.83],[57.1,41.32],[55.97,41.31],[55.93,45],[58.5,45.59],[58.69,45.5],[60.24,44.78],[61.06,44.41],[62.01,43.5],[63.19,43.65],[64.9,43.73],[66.1,43],[66.02,42],[66.51,41.99],[66.71,41.17],[67.99,41.14],[68.26,40.66],[68.63,40.67],[69.07,41.38],[70.39,42.08],[70.96,42.27],[71.26,42.17],[70.4,41],[68.1,38.96],[67.83,37.14],[67.08,37.36],[66.52,37.36]]],
 afghanistan:[[[61.21,35.65],[62.23,35.27],[62.98,35.4],[63.19,35.86],[63.98,36.01],[64.55,36.31],[64.75,37.11],[65.59,37.31],[65.75,37.66],[66.22,37.39],[66.52,37.36],[67.08,37.36],[67.83,37.14],[72,37],[70,30],[61.7,31.38],[60.94,31.55],[60.86,32.18],[60.54,32.98],[60.96,33.53],[60.53,33.68],[60.8,34.4],[61.21,35.65]]]
};

const countryShapes={Iceland:iceland,Norway:norway,Sweden:sweden,Finland:finland,Denmark:denmark,Estonia:estonia,Latvia:latvia,Lithuania:lithuania,Belarus:belarus,Poland:poland,Germany:germany,Netherlands:netherlands,Belgium:belgium,Luxembourg:luxembourg,France:france,Spain:spain,Portugal:portugal,Italy:italy,Switzerland:switzerland,Austria:austria,Czechia:czechia,Slovakia:slovakia,Hungary:hungary,Slovenia:slovenia,Croatia:croatia,Romania:romania,Bulgaria:bulgaria,Greece:greece,Cyprus:cyprus,Malta:malta,"United Kingdom":uk,Ireland:ireland,Ukraine:ukraine,Russia:russia};

// Build GeoJSON with d3's spherical winding
function feature(name,rings,value){
  const polys=rings.map(r=>{const f={type:"Polygon",coordinates:[r]};
    if(d3.geoArea(f)>2*Math.PI) f.coordinates=[r.slice().reverse()];return f.coordinates});
  return {type:"Feature",properties:{name,value},geometry:{type:"MultiPolygon",coordinates:polys}};
}

const svg=d3.select("#chart");
const defs=svg.append("defs");
defs.append("clipPath").attr("id","mapClip").append("rect").attr("x",13).attr("y",67).attr("width",772).attr("height",376);
const hatch=defs.append("pattern").attr("id","hatch").attr("patternUnits","userSpaceOnUse").attr("width",5.5).attr("height",5.5).attr("patternTransform","rotate(45)");
hatch.append("rect").attr("width",5.5).attr("height",5.5).attr("fill","#fff");
hatch.append("line").attr("x1",0).attr("x2",0).attr("y1",0).attr("y2",5.5).attr("stroke","#d2d2d2").attr("stroke-width",2.2);

const color=d3.scaleThreshold().domain(legendThresholds).range(binColors);
const projection=d3.geoAzimuthalEqualArea().rotate([0,0]).scale(504.5).translate([330.1,715.3]);
const geoPath=d3.geoPath(projection);
const map=svg.append("g").attr("clip-path","url(#mapClip)");

map.append("g").selectAll("path").data(Object.entries(contextCountries).map(([k,v])=>feature(k,v))).join("path")
  .attr("d",geoPath).attr("fill","#fff").attr("stroke","#dedede").attr("stroke-width",.8).attr("stroke-linejoin","round");
map.append("g").selectAll("path").data(Object.entries(noDataCountries).map(([k,v])=>feature(k,v))).join("path")
  .attr("d",geoPath).attr("fill","url(#hatch)").attr("stroke","#d8d8d8").attr("stroke-width",.5);
map.append("g").selectAll("path").data(countriesWithData.map((c,i)=>feature(c,countryShapes[c],shareValues[i]))).join("path")
  .attr("d",geoPath).attr("fill",d=>color(d.properties.value)).attr("stroke","#555").attr("stroke-opacity",.6).attr("stroke-width",.5).attr("stroke-linejoin","round");

// Header
const sans='"Liberation Sans",Arial,sans-serif';
svg.append("text").attr("x",14).attr("y",28).attr("font-family",'"Liberation Serif",Georgia,serif').attr("font-size",27.5).attr("fill","#4e4e4e").attr("textLength",569).attr("lengthAdjust","spacingAndGlyphs").text(titleText);
const subLen=[669,587];
svg.selectAll("text.sub").data(subtitleLines).join("text").attr("class","sub").attr("x",13).attr("y",(d,i)=>48+i*16).attr("font-family",sans).attr("font-size",13.5).attr("fill","#5b5b5b").attr("textLength",(d,i)=>subLen[i]).attr("lengthAdjust","spacingAndGlyphs").text(d=>d);

// Logo
const logo=svg.append("g");
logo.append("rect").attr("x",727).attr("y",7).attr("width",58).attr("height",33).attr("fill","#002147");
logo.append("rect").attr("x",727).attr("y",36).attr("width",58).attr("height",4).attr("fill","#dc2e1c");
logo.selectAll("text").data(["Our World","in Data"]).join("text").attr("x",756).attr("y",(d,i)=>20+i*12).attr("text-anchor","middle").attr("font-family",sans).attr("font-size",11.5).attr("fill","#fff").text(d=>d);

// Legend
const lx=d3.scalePoint().domain(legendTicks).range([238,623]);
const legend=svg.append("g").attr("font-family",sans).attr("font-size",12.5).attr("fill","#444");
legend.selectAll("rect.bin").data(binColors).join("rect").attr("class","bin").attr("x",(d,i)=>lx(legendTicks[i])).attr("y",478).attr("width",lx.step()).attr("height",10).attr("fill",d=>d).attr("stroke","#777").attr("stroke-opacity",.6).attr("stroke-width",.5);
legend.selectAll("line").data(legendTicks).join("line").attr("x1",d=>lx(d)).attr("x2",d=>lx(d)).attr("y1",475).attr("y2",478).attr("stroke","#999").attr("stroke-width",.6);
legend.selectAll("text.tick").data(legendTicks).join("text").attr("class","tick").attr("x",d=>lx(d)).attr("y",471).attr("text-anchor","middle").text(d=>d);
legend.append("text").attr("x",196).attr("y",471).attr("text-anchor","middle").text("No data");
legend.append("line").attr("x1",196).attr("x2",196).attr("y1",475).attr("y2",478).attr("stroke","#999").attr("stroke-width",.6);
legend.append("rect").attr("x",174).attr("y",478).attr("width",45).attr("height",10).attr("fill","url(#hatch)").attr("stroke","#aaa").attr("stroke-width",.5);
</script></body></html>
